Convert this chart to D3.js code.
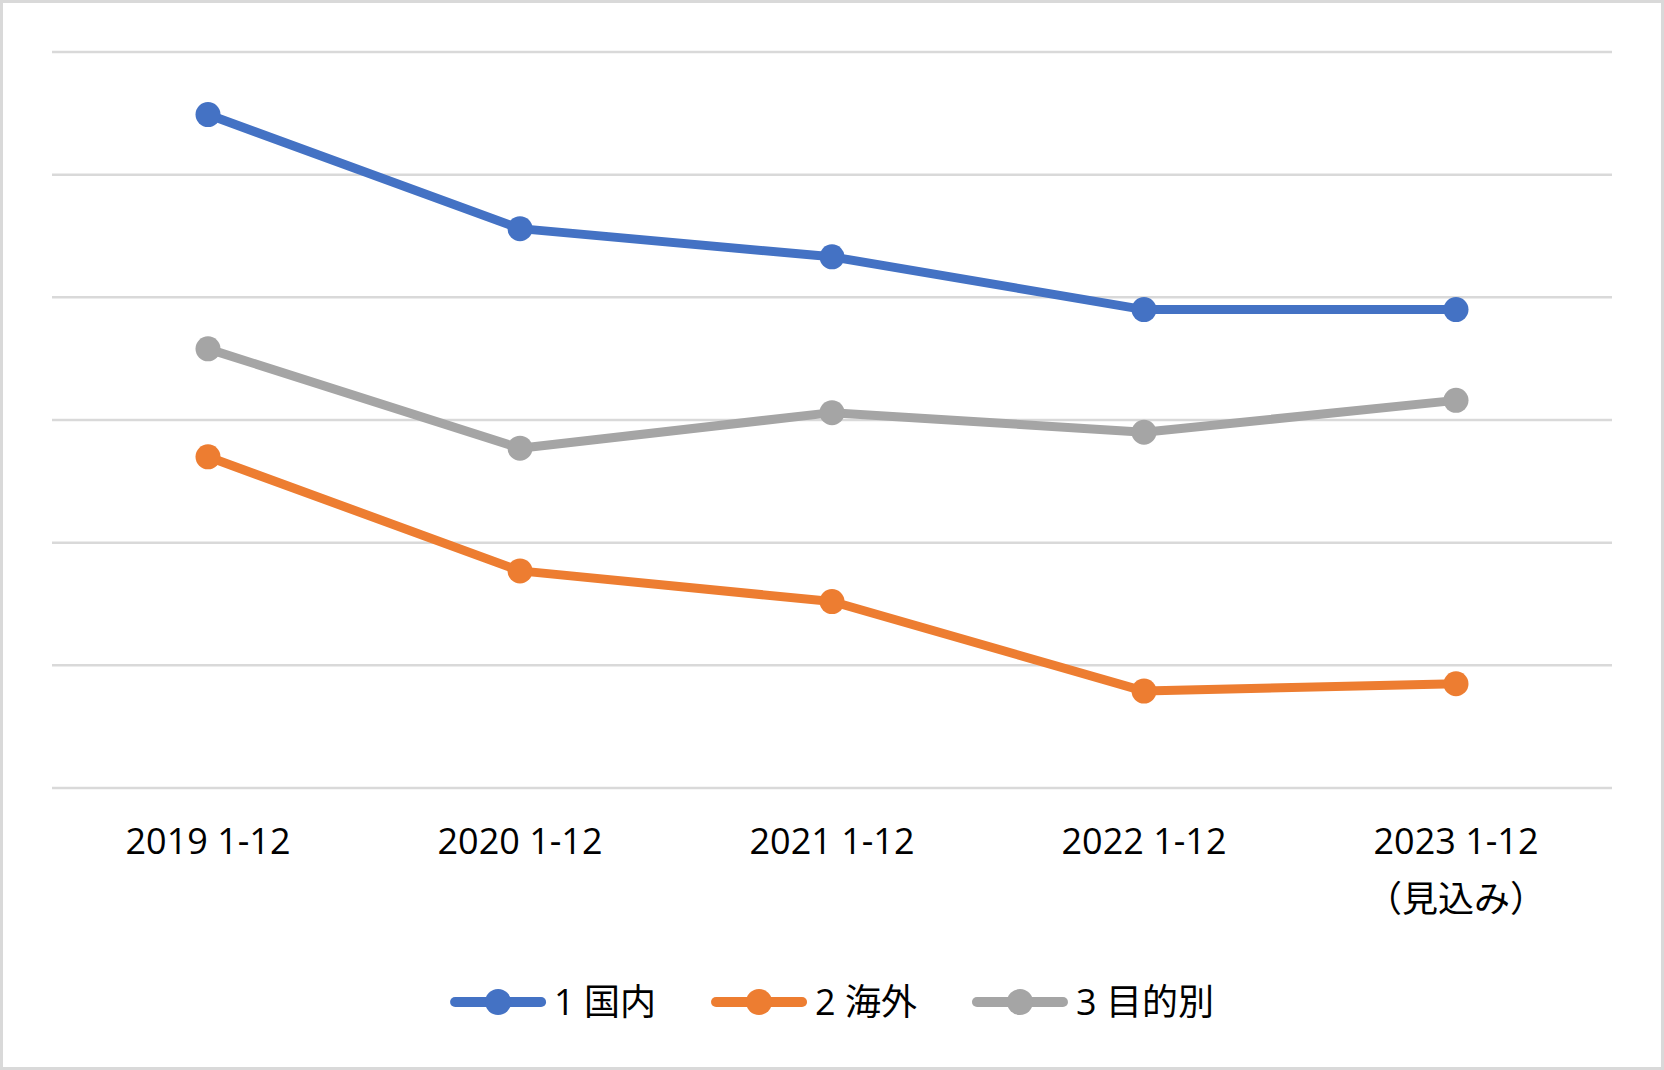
<!DOCTYPE html>
<html><head><meta charset="utf-8">
<script src="https://cdn.jsdelivr.net/npm/d3@7"></script>
<style>
html,body{margin:0;padding:0;background:#fff;}
svg text{font-family:"Open Sans","Noto Sans CJK JP",sans-serif;fill:#000;}
</style></head>
<body><svg id="chart" width="1664" height="1070"></svg>
<script>
const categories = ["2019 1-12","2020 1-12","2021 1-12","2022 1-12","2023 1-12\n（見込み）"];
const seriesNames = ["1 国内","2 海外","3 目的別"];
const domestic = [5.49,4.56,4.33,3.90,3.90];
const overseas = [2.70,1.77,1.52,0.79,0.85];
const byPurpose = [3.58,2.77,3.06,2.90,3.16];
const yTicks = [0,1,2,3,4,5,6];
const colors = ["#4472C4","#ED7D31","#A5A5A5"];

const series = [domestic, overseas, byPurpose];
const svg = d3.select("#chart");
const W = 1664, H = 1070;
const mLeft = 52, mRight = 1612, mTop = 52, mBottom = 788;

svg.append("rect").attr("x",1.5).attr("y",1.5).attr("width",W-3).attr("height",H-3)
  .attr("fill","#fff").attr("stroke","#d9d9d9").attr("stroke-width",3);

const x = d3.scaleBand().domain(categories).range([mLeft,mRight]);
const y = d3.scaleLinear().domain([0,6]).range([mBottom,mTop]);

// gridlines
svg.append("g").selectAll("line").data(yTicks).join("line")
  .attr("x1",mLeft).attr("x2",mRight)
  .attr("y1",d=>y(d)).attr("y2",d=>y(d))
  .attr("stroke","#d9d9d9").attr("stroke-width",2.5);

// x axis (ticks hidden) + labels
const xAxis = svg.append("g").attr("transform",`translate(0,${mBottom})`)
  .call(d3.axisBottom(x).tickSize(0).tickFormat(""));
xAxis.select(".domain").remove();
const cx = d => x(d)+x.bandwidth()/2;
const lab = svg.append("g").selectAll("text").data(categories).join("text")
  .attr("x",d=>cx(d)).attr("y",mBottom+66)
  .attr("text-anchor","middle").style("font-size","36px");
lab.each(function(d){
  const parts = d.split("\n");
  const t = d3.select(this);
  parts.forEach((p,i)=>{
    t.append("tspan").attr("x",cx(d)).attr("dy", i===0?0:58).text(p);
  });
});

const line = d3.line().x((d,i)=>cx(categories[i])).y(d=>y(d));

series.forEach((s,k)=>{
  svg.append("path").datum(s).attr("d",line).attr("fill","none")
    .attr("stroke",colors[k]).attr("stroke-width",9).attr("stroke-linejoin","round");
});
series.forEach((s,k)=>{
  svg.append("g").selectAll("circle").data(s).join("circle")
    .attr("cx",(d,i)=>cx(categories[i])).attr("cy",d=>y(d)).attr("r",12.5)
    .attr("fill",colors[k]);
});

// legend
const legY = 1002, lineLen = 96, textGap = 8, itemGap = 55;
const leg = svg.append("g");
let pos = 0;
seriesNames.forEach((n,k)=>{
  const g = leg.append("g").attr("transform",`translate(${pos},0)`);
  g.append("line").attr("x1",5).attr("x2",lineLen-5).attr("y1",legY).attr("y2",legY)
    .attr("stroke",colors[k]).attr("stroke-width",10).attr("stroke-linecap","round");
  g.append("circle").attr("cx",lineLen/2).attr("cy",legY).attr("r",13).attr("fill",colors[k]);
  const t = g.append("text").attr("x",lineLen+textGap).attr("y",legY+13)
    .style("font-size","36px").text(n);
  const w = t.node().getComputedTextLength();
  pos += lineLen+textGap+w+itemGap;
});
const total = pos-itemGap;
leg.attr("transform",`translate(${(W-total)/2},0)`);
</script></body></html>
